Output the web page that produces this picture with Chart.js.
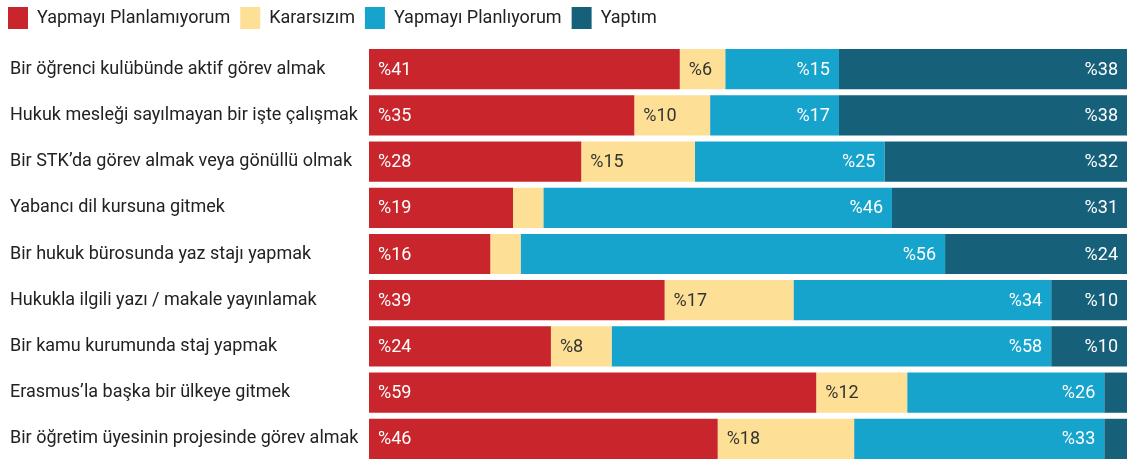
<!DOCTYPE html>
<html>
<head>
<meta charset="utf-8">
<script src="https://cdn.jsdelivr.net/npm/chart.js@4"></script>
<style>
  html, body { margin: 0; padding: 0; background: #fff; }
  #wrap { width: 1127px; height: 462px; }
</style>
</head>
<body>
<div id="wrap"><canvas id="grafik"></canvas></div>
<script>
// Kategoriler ve seriler
const kategoriler = [
  "Bir öğrenci kulübünde aktif görev almak",
  "Hukuk mesleği sayılmayan bir işte çalışmak",
  "Bir STK’da görev almak veya gönüllü olmak",
  "Yabancı dil kursuna gitmek",
  "Bir hukuk bürosunda yaz stajı yapmak",
  "Hukukla ilgili yazı / makale yayınlamak",
  "Bir kamu kurumunda staj yapmak",
  "Erasmus’la başka bir ülkeye gitmek",
  "Bir öğretim üyesinin projesinde görev almak"
];
const planlamiyorum = [41, 35, 28, 19, 16, 39, 24, 59, 46];
const kararsizim = [6, 10, 15, 4, 4, 17, 8, 12, 18];
const planliyorum = [15, 17, 25, 46, 56, 34, 58, 26, 33];
const yaptim = [38, 38, 32, 31, 24, 10, 10, 3, 3];

const seriAdlari = ["Yapmayı Planlamıyorum", "Kararsızım", "Yapmayı Planlıyorum", "Yaptım"];
const renkler = ["#C8262C", "#FDE095", "#16A3CC", "#16607A"];
const yaziRenkleri = ["#ffffff", "#333333", "#ffffff", "#ffffff"];
const hizalar = ["left", "left", "right", "right"];

// Çubukların içine yüzde etiketleri
const etiketEklentisi = {
  id: "etiketler",
  afterLayout(chart) {
    // lejantı sol üst köşeye yasla
    if (chart.legend) {
      chart.legend.left = -2;
      chart.legend.top = -3;
    }
  },
  afterDatasetsDraw(chart) {
    const ctx = chart.ctx;
    ctx.save();
    ctx.font = "18px Roboto";
    ctx.textBaseline = "middle";
    chart.data.datasets.forEach(function (ds, i) {
      const meta = chart.getDatasetMeta(i);
      meta.data.forEach(function (bar, j) {
        const v = ds.data[j];
        if (v < 5) return;
        const sol = Math.min(bar.base, bar.x);
        const sag = Math.max(bar.base, bar.x);
        ctx.fillStyle = yaziRenkleri[i];
        ctx.textAlign = hizalar[i];
        const x = hizalar[i] === "left" ? sol + 9 : sag - 9;
        ctx.fillText("%" + v, x, bar.y + 1);
      });
    });
    ctx.restore();
  }
};

const diziler = [planlamiyorum, kararsizim, planliyorum, yaptim];

new Chart(document.getElementById("grafik").getContext("2d"), {
  type: "bar",
  data: {
    labels: kategoriler,
    datasets: diziler.map(function (d, i) {
      return {
        label: seriAdlari[i],
        data: d,
        backgroundColor: renkler[i],
        borderWidth: 0,
        categoryPercentage: 1,
        barPercentage: 0.87
      };
    })
  },
  options: {
    indexAxis: "y",
    responsive: true,
    maintainAspectRatio: false,
    animation: false,
    layout: { padding: { left: 10, right: 0, top: 4, bottom: 0 } },
    plugins: {
      tooltip: { enabled: false },
      legend: {
        position: "top",
        align: "start",
        labels: {
          boxWidth: 20,
          boxHeight: 22,
          padding: 10,
          color: "#222",
          font: { family: "Roboto", size: 18 }
        }
      }
    },
    scales: {
      x: {
        stacked: true,
        min: 0,
        max: 100,
        display: false
      },
      y: {
        stacked: true,
        grid: { display: false },
        border: { display: false },
        ticks: {
          crossAlign: "far",
          color: "#222",
          padding: 0,
          font: { family: "Roboto", size: 18 }
        },
        afterFit: function (scale) {
          scale.width = 359;
          scale.paddingTop = 0;
          scale.paddingBottom = 0;
        }
      }
    }
  },
  plugins: [etiketEklentisi]
});
</script>
</body>
</html>
